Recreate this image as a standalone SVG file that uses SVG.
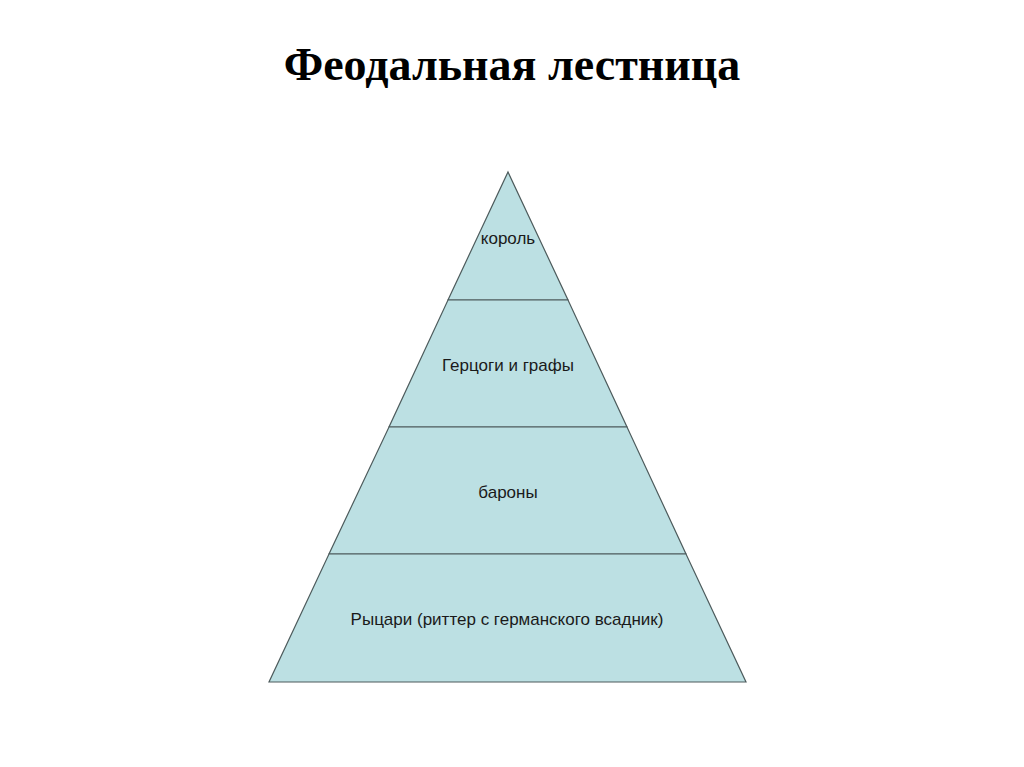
<svg xmlns="http://www.w3.org/2000/svg" width="1024" height="767" viewBox="0 0 1024 767">
<style>
.lvl{fill:#bce0e3;stroke:#4d5b5c;stroke-width:1.2;stroke-linejoin:miter}
.lbl{font-family:"Liberation Sans",Arial,sans-serif;font-size:17px;fill:#1a1a1a;text-anchor:middle}
.title{font-family:"Liberation Serif","Times New Roman",serif;font-weight:bold;font-size:46px;fill:#000;text-anchor:middle}
</style>
<rect width="1024" height="767" fill="#fff"/>
<text class="title" x="512" y="80">Феодальная лестница</text>
<g id="level-king">
<polygon class="lvl" points="508,172 568,300 448,300"/>
<text class="lbl" x="508" y="244">король</text>
</g>
<g id="level-dukes">
<polygon class="lvl" points="448,300 568,300 627,427 389,427"/>
<text class="lbl" x="508" y="371">Герцоги и графы</text>
</g>
<g id="level-barons">
<polygon class="lvl" points="389,427 627,427 686,554 329,554"/>
<text class="lbl" x="508" y="498">бароны</text>
</g>
<g id="level-knights">
<polygon class="lvl" points="329,554 686,554 746,682 269,682"/>
<text class="lbl" x="507" y="625">Рыцари (риттер с германского всадник)</text>
</g>
<g id="connectors"></g>
</svg>
